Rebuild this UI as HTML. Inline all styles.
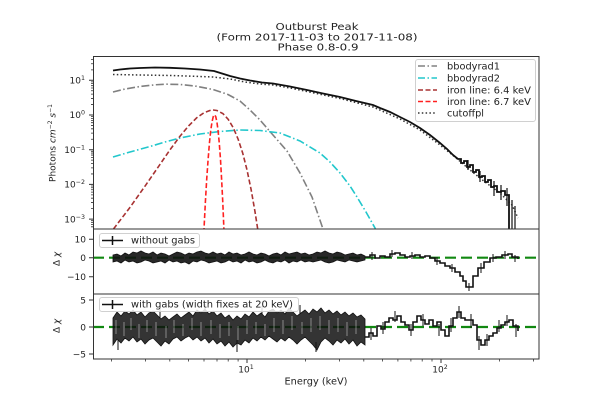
<!DOCTYPE html>
<html><head><meta charset="utf-8"><style>
html,body{margin:0;padding:0;background:#fff;}
svg{display:block;}
text{font-family:"DejaVu Sans","Liberation Sans",sans-serif;fill:#222;}
</style></head><body>
<svg width="600" height="400" viewBox="0 0 600 400" xmlns="http://www.w3.org/2000/svg">
<defs>
<clipPath id="c1"><rect x="93" y="56" width="446" height="173"/></clipPath>
<clipPath id="c2"><rect x="93" y="229" width="446" height="65"/></clipPath>
<clipPath id="c3"><rect x="93" y="294" width="446" height="65"/></clipPath>
</defs>
<rect width="600" height="400" fill="#fff"/>

<!-- Title -->
<text x="317" y="30" font-size="10" text-anchor="middle" textLength="83" lengthAdjust="spacingAndGlyphs">Outburst Peak</text>
<text x="317" y="40.5" font-size="10" text-anchor="middle" textLength="201" lengthAdjust="spacingAndGlyphs">(Form 2017-11-03 to 2017-11-08)</text>
<text x="318" y="50.5" font-size="10" text-anchor="middle" textLength="81" lengthAdjust="spacingAndGlyphs">Phase 0.8-0.9</text>

<!-- TOP PANEL -->
<g clip-path="url(#c1)" fill="none" stroke-width="1.6">
<path stroke="#808080" stroke-dasharray="8 2.5 1.5 2.5" d="M113,92 L125,89 L140,86.5 L155,84.8 L167,84.2 L180,84.5 L195,86 L213,89.5 L228,94.5 L240,101 L250,110 L260,120 L273,135 L287,151 L300,173 L312,197 L323,229 L325,235"/>
<path stroke="#22c7cc" stroke-dasharray="8 2.5 1.5 2.5" d="M113,157 L130,152 L150,146.5 L165,142 L180,138 L200,134 L220,131.5 L240,130 L260,130.5 L280,133 L300,141 L320,153 L330,162 L340,173 L350,186 L357,197 L366,212 L375,228 L377,233"/>
<path stroke="#a83232" stroke-dasharray="5 2.5" d="M113.5,229 L130.2,207.1 L145.6,185.3 L158.6,166.4 L169.8,150.1 L179.7,136.6 L188.6,125.9 L196.6,117.9 L204,112.7 L210.7,110.2 L213.3,110 L216.9,110.5 L222.8,113.5 L228.2,119.3 L233.3,127.8 L238.1,139.1 L242.7,153.1 L247,169.9 L251.1,189.5 L255,211.7 L257.7,229 L258.5,234"/>
<path stroke="#ff2020" stroke-dasharray="5 2.5" d="M203.6,233 L204,229 L205.35,202.6 L206.7,179.3 L208.1,159.6 L209.4,143.4 L210.7,130.8 L212,121.9 L213.3,116.5 L214.5,114.7 L215.7,116.5 L216.9,121.9 L218.1,130.8 L219.3,143.4 L220.5,159.6 L221.6,179.3 L222.8,202.6 L223.9,229 L224.2,233"/>
<path stroke="#333" stroke-width="1.5" stroke-dasharray="1.5 2.3" d="M113,74.5 L140,75 L170,75.5 L200,76.5 L213,77 L230,79 L245,82 L260,84 L273,85 L290,88 L307,91.5 L340,98.5 L373,107 L400,119 L420,130 L440,145 L455,157 L470,170 L485,182 L500,193 L512,205 L518,218"/>
<path stroke="#111" stroke-width="1.8" d="M113,70.5 L120,69.5 L130,68.5 L140,68 L155,67.5 L170,67.8 L185,68.5 L200,69.5 L214,71 L222,73.5 L230,76 L240,78.5 L250,80.5 L262,82.5 L273,83.5 L290,86.5 L307,90 L323,93.5 L340,97 L356,101 L373,105 L380,108 L390,112 L400,117 L410,122 L420,128 L430,135 L440,143 L447,149 L453,155 L458,159 H461 V163 H464 V161 H467 V167 H470 V165 H473 V172 H476 V170 H479 V177 H482 V176 H485 V182 H488 V180 H491 V187 H494 V186 H497 V192 H501 V191 H505 V195 H509 V232"/>
<path stroke="#111" stroke-width="1.2" d="M494,181 V196 M501,185 V200 M507,188 V206 M512,200 V232 M515,206 V232 M468,160 V170 M480,171 V182"/>
</g>
<!-- Top legend -->
<rect x="415.5" y="59.5" width="120" height="62" rx="2.5" fill="#fff" fill-opacity="0.85" stroke="#d0d0d0" stroke-width="1"/>
<g fill="none" stroke-width="1.6">
<path stroke="#808080" stroke-dasharray="7 2.5 1.5 2.5" d="M418,66 H437"/>
<path stroke="#22c7cc" stroke-dasharray="7 2.5 1.5 2.5" d="M418,78 H437"/>
<path stroke="#a83232" stroke-dasharray="5 2.5" d="M418,90 H437"/>
<path stroke="#ff2020" stroke-dasharray="5 2.5" d="M418,101.5 H437"/>
<path stroke="#333" stroke-width="1.4" stroke-dasharray="1.5 2.3" d="M418,113 H437"/>
</g>
<g font-size="9.5">
<text x="447" y="69.5" textLength="53" lengthAdjust="spacingAndGlyphs">bbodyrad1</text>
<text x="447" y="81.5" textLength="53" lengthAdjust="spacingAndGlyphs">bbodyrad2</text>
<text x="447" y="93.5" textLength="84" lengthAdjust="spacingAndGlyphs">iron line: 6.4 keV</text>
<text x="447" y="105" textLength="84" lengthAdjust="spacingAndGlyphs">iron line: 6.7 keV</text>
<text x="447" y="116.5" textLength="37" lengthAdjust="spacingAndGlyphs">cutoffpl</text>
</g>

<!-- MIDDLE PANEL -->
<g clip-path="url(#c2)">
<path d="M93,257.7 H539" stroke="#118811" stroke-width="2.2" stroke-dasharray="11 5" fill="none"/>
<path fill="#111" fill-opacity="0.9" stroke="#111" stroke-width="0.8" d="M113,255 L117,254 L121,256 L125,253 L129,255 L133,252 L137,253 L141,251 L145,253 L149,254 L153,252 L157,255 L161,253 L165,254 L169,256 L173,254 L177,252 L181,253 L185,255 L189,253 L193,254 L197,252 L201,251 L205,253 L209,254 L213,252 L217,254 L221,253 L225,255 L229,252 L233,254 L237,253 L241,255 L245,254 L249,252 L253,254 L257,255 L261,253 L265,254 L269,256 L273,254 L277,253 L281,255 L285,252 L289,254 L293,253 L297,252 L301,254 L305,253 L309,255 L313,254 L317,252 L321,253 L325,251 L329,253 L333,254 L337,252 L341,253 L345,255 L349,254 L353,253 L357,255 L361,254 L365,256 L365,260 L361,261 L357,262 L353,261 L349,260 L345,262 L341,261 L337,260 L333,262 L329,263 L325,262 L321,260 L317,261 L313,262 L309,261 L305,262 L301,260 L297,262 L293,261 L289,263 L285,260 L281,262 L277,261 L273,263 L269,262 L265,260 L261,262 L257,263 L253,261 L249,262 L245,260 L241,263 L237,261 L233,262 L229,260 L225,262 L221,263 L217,261 L213,262 L209,263 L205,261 L201,260 L197,262 L193,261 L189,264 L185,262 L181,263 L177,261 L173,262 L169,260 L165,263 L161,261 L157,262 L153,263 L149,261 L145,260 L141,262 L137,263 L133,261 L129,262 L125,260 L121,263 L117,261 L113,262 Z"/>
<path fill="none" stroke="#111" stroke-width="1.6" d="M365,257 H370 V255 H375 V258 H380 V256 H385 V257 H390 V254 H395 V253 H400 V255 H405 V257 H410 V256 H415 V255 H420 V257 H425 V256 H430 V258 H435 V261 H440 V263 H445 V266 H450 V268 H455 V272 H460 V276 H463 V281 H466 V287 H473 V276 H478 V268 H484 V262 H490 V258 H496 V257 H502 V255 H508 V254 H512 V257 H518 V259"/>
<path fill="none" stroke="#111" stroke-width="1" d="M372,252 V260 M392,250 V257 M412,252 V259 M437,257 V265 M452,264 V272 M469,283 V291 M481,263 V273 M493,254 V262 M505,251 V259 M515,255 V262"/>
</g>
<rect x="99.5" y="233.5" width="100" height="14" rx="2.5" fill="#fff" fill-opacity="0.85" stroke="#d0d0d0" stroke-width="1"/>
<path d="M102,240.5 H123 M112.5,236 V245" stroke="#111" stroke-width="1.5" fill="none"/>
<text x="131" y="243.5" font-size="9.5" textLength="64" lengthAdjust="spacingAndGlyphs">without gabs</text>

<!-- BOTTOM PANEL -->
<g clip-path="url(#c3)">
<path d="M93,327 H539" stroke="#118811" stroke-width="2.2" stroke-dasharray="11 5" fill="none"/>
<path fill="#111" fill-opacity="0.85" stroke="#111" stroke-width="0.8" d="M113,318 L117,312 L121,316 L125,311 L129,314 L133,310 L137,315 L141,312 L145,317 L149,313 L153,311 L157,315 L161,319 L165,316 L169,320 L173,317 L177,314 L181,318 L185,315 L189,312 L193,316 L197,310 L201,313 L205,309 L209,314 L213,311 L217,316 L221,313 L225,318 L229,315 L233,320 L237,316 L241,319 L245,314 L249,317 L253,312 L257,316 L261,313 L265,317 L269,311 L273,309 L277,313 L281,310 L285,314 L289,308 L293,312 L297,316 L301,313 L305,310 L309,314 L313,309 L317,312 L321,308 L325,313 L329,310 L333,314 L337,311 L341,315 L345,312 L349,316 L353,313 L357,317 L361,315 L365,319 L365,345 L361,342 L357,346 L353,340 L349,344 L345,339 L341,343 L337,340 L333,345 L329,341 L325,338 L321,342 L317,350 L313,345 L309,341 L305,337 L301,340 L297,344 L293,340 L289,337 L285,341 L281,338 L277,342 L273,339 L269,336 L265,340 L261,337 L257,341 L253,338 L249,343 L245,340 L241,345 L237,343 L233,347 L229,342 L225,346 L221,341 L217,344 L213,339 L209,343 L205,338 L201,341 L197,337 L193,340 L189,336 L185,338 L181,341 L177,337 L173,339 L169,344 L165,341 L161,346 L157,342 L153,338 L149,340 L145,344 L141,339 L137,342 L133,337 L129,341 L125,338 L121,343 L117,339 L113,345 Z"/>
<path fill="none" stroke="#fff" stroke-width="0.7" stroke-opacity="0.6" d="M116,320 V334 M124,322 V336 M131,318 V330 M139,324 V338 M147,320 V332 M156,322 V336 M166,326 V338 M174,320 V333 M183,324 V336 M192,318 V330 M201,322 V336 M211,320 V334 M220,324 V338 M229,322 V336 M238,326 V340 M247,320 V334 M256,322 V334 M265,324 V336 M274,318 V332 M283,320 V334 M292,316 V330 M302,322 V334 M311,318 V332 M320,316 V330 M329,320 V334 M338,318 V332 M347,322 V336 M356,320 V334"/>
<path fill="none" stroke="#111" stroke-width="1" d="M160,305 V318 M205,304 V312 M237,340 V352 M118,340 V350 M262,306 V314 M300,305 V314 M316,342 V352"/>
<path fill="none" stroke="#111" stroke-width="1.6" d="M365,337 H369 V333 H373 V336 H377 V326 H381 V329 H385 V322 H389 V318 H393 V320 H397 V316 H401 V322 H405 V325 H409 V330 H413 V322 H417 V316 H421 V320 H425 V324 H429 V320 H433 V326 H437 V322 H441 V330 H445 V336 H449 V326 H453 V318 H457 V312 H461 V318 H465 V320 H469 V320 H473 V325 H477 V340 H481 V345 H485 V340 H489 V336 H493 V333 H497 V328 H501 V325 H505 V322 H509 V320 H513 V326 H518 V331"/>
<path fill="none" stroke="#111" stroke-width="1" d="M371,328 V340 M383,322 V334 M395,311 V322 M411,324 V336 M423,314 V326 M439,324 V336 M451,318 V332 M459,306 V318 M471,314 V328 M479,336 V350 M487,334 V346 M499,320 V332 M507,315 V326 M516,324 V337"/>
</g>
<rect x="99.5" y="297.5" width="199" height="14" rx="2.5" fill="#fff" fill-opacity="0.85" stroke="#d0d0d0" stroke-width="1"/>
<path d="M102,304.5 H123 M112.5,300 V309" stroke="#111" stroke-width="1.5" fill="none"/>
<text x="131" y="307.5" font-size="9.5" textLength="162" lengthAdjust="spacingAndGlyphs">with gabs (width fixes at 20 keV)</text>

<!-- Spines -->
<g fill="none" stroke="#333" stroke-width="1">
<rect x="93.5" y="56.5" width="445.5" height="172.5"/>
<rect x="93.5" y="229" width="445.5" height="65"/>
<rect x="93.5" y="294" width="445.5" height="65"/>
</g>

<!-- Ticks -->
<g stroke="#333" stroke-width="1" fill="none">
<path d="M89,80.3 H93 M89,115 H93 M89,149.7 H93 M89,184.4 H93 M89,219.1 H93"/>
<path stroke-width="0.8" d="M91,226.8 H93 M91,224.5 H93 M91,222.5 H93 M91,220.7 H93 M91,208.65 H93 M91,202.54 H93 M91,198.21 H93 M91,194.85 H93 M91,192.1 H93 M91,189.77 H93 M91,187.76 H93 M91,185.99 H93 M91,173.95 H93 M91,167.84 H93 M91,163.51 H93 M91,160.15 H93 M91,157.4 H93 M91,155.07 H93 M91,153.06 H93 M91,151.29 H93 M91,139.25 H93 M91,133.14 H93 M91,128.81 H93 M91,125.45 H93 M91,122.7 H93 M91,120.37 H93 M91,118.36 H93 M91,116.59 H93 M91,104.55 H93 M91,98.44 H93 M91,94.11 H93 M91,90.75 H93 M91,88 H93 M91,85.67 H93 M91,83.66 H93 M91,81.89 H93 M91,69.85 H93 M91,63.74 H93 M91,59.41 H93"/>
<path d="M89,239.3 H93 M89,257.7 H93 M89,276.7 H93 M89,300 H93 M89,327 H93 M89,354 H93"/>
<path d="M247,359 V363 M441,359 V363"/>
<path stroke-width="0.8" d="M111.4,359 V361.5 M145.6,359 V361.5 M169.8,359 V361.5 M188.6,359 V361.5 M204,359 V361.5 M217,359 V361.5 M228.2,359 V361.5 M238.1,359 V361.5 M305.4,359 V361.5 M339.6,359 V361.5 M363.8,359 V361.5 M382.6,359 V361.5 M397.9,359 V361.5 M410.9,359 V361.5 M422.2,359 V361.5 M432,359 V361.5 M499.4,359 V361.5 M533.6,359 V361.5"/>
</g>

<!-- Tick labels -->
<g font-size="9">
<text x="85" y="83.5" text-anchor="end">10<tspan font-size="6.3" dy="-3.5">1</tspan></text>
<text x="85" y="118.2" text-anchor="end">10<tspan font-size="6.3" dy="-3.5">0</tspan></text>
<text x="85" y="152.9" text-anchor="end">10<tspan font-size="6.3" dy="-3.5">−1</tspan></text>
<text x="85" y="187.6" text-anchor="end">10<tspan font-size="6.3" dy="-3.5">−2</tspan></text>
<text x="85" y="222.3" text-anchor="end">10<tspan font-size="6.3" dy="-3.5">−3</tspan></text>
<text x="86" y="242.5" text-anchor="end">10</text>
<text x="86" y="261" text-anchor="end">0</text>
<text x="86" y="280" text-anchor="end">−10</text>
<text x="86" y="303.3" text-anchor="end">5</text>
<text x="86" y="330.3" text-anchor="end">0</text>
<text x="86" y="357.3" text-anchor="end">−5</text>
<text x="246" y="372.5" text-anchor="middle">10<tspan font-size="6.3" dy="-3.5">1</tspan></text>
<text x="440" y="372.5" text-anchor="middle">10<tspan font-size="6.3" dy="-3.5">2</tspan></text>
</g>

<!-- Axis labels -->
<text x="316" y="384.5" font-size="9.5" text-anchor="middle" textLength="63" lengthAdjust="spacingAndGlyphs">Energy (keV)</text>
<text transform="translate(55.5,143) rotate(-90)" font-size="9" text-anchor="middle">Photons <tspan font-style="italic">cm</tspan><tspan font-size="6" dy="-3.5">−2</tspan><tspan dy="3.5"> </tspan><tspan font-style="italic">s</tspan><tspan font-size="6" dy="-3.5">−1</tspan></text>
<text transform="translate(59.5,259) rotate(-90)" font-size="9" text-anchor="middle">Δ <tspan font-style="italic">χ</tspan></text>
<text transform="translate(59.5,326) rotate(-90)" font-size="9" text-anchor="middle">Δ <tspan font-style="italic">χ</tspan></text>
</svg>
</body></html>
